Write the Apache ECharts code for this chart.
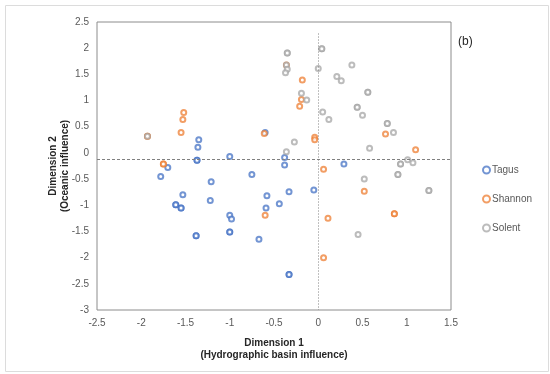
<!DOCTYPE html>
<html><head><meta charset="utf-8">
<script src="https://cdn.jsdelivr.net/npm/echarts@6/dist/echarts.min.js"></script>
<style>html,body{margin:0;padding:0;background:#fff}#c{width:550px;height:374px}</style>
</head><body><div id="c"></div>
<script>
var seriesNames = ['Tagus', 'Shannon', 'Solent'];
var tagus = [[-0.60,0.39],[-1.35,0.25],[-1.36,0.11],[-1.37,-0.14],[-1.37,-0.14],[-1.00,-0.07],[-0.38,-0.09],[-0.38,-0.23],[0.29,-0.21],[-1.70,-0.28],[-1.78,-0.45],[-0.75,-0.41],[-1.21,-0.55],[-1.53,-0.80],[-0.58,-0.82],[-0.33,-0.74],[-0.05,-0.71],[-1.22,-0.91],[-1.61,-0.99],[-1.61,-0.99],[-1.55,-1.05],[-1.55,-1.05],[-0.44,-0.97],[-0.59,-1.05],[-1.00,-1.19],[-0.98,-1.26],[-1.00,-1.51],[-1.00,-1.51],[-1.38,-1.58],[-1.38,-1.58],[-0.67,-1.65],[-0.33,-2.32],[-0.33,-2.32]];
var shannon = [[-1.93,0.32],[-1.93,0.32],[-1.52,0.77],[-1.53,0.64],[-1.55,0.39],[-1.75,-0.21],[-1.75,-0.21],[-0.61,0.37],[-0.18,1.39],[-0.19,1.02],[-0.21,0.89],[-0.36,1.68],[-0.04,0.30],[-0.04,0.25],[0.06,-0.31],[0.52,-0.73],[0.11,-1.25],[-0.60,-1.19],[0.06,-2.00],[0.76,0.36],[1.10,0.06],[0.86,-1.16],[0.86,-1.16]];
var solent = [[-1.93,0.32],[-0.35,1.91],[-0.35,1.91],[0.04,1.99],[0.04,1.99],[-0.36,1.68],[-0.35,1.60],[-0.37,1.53],[0.00,1.61],[0.38,1.68],[0.21,1.46],[0.26,1.38],[-0.19,1.14],[-0.13,1.01],[0.56,1.16],[0.56,1.16],[0.05,0.78],[0.12,0.64],[0.44,0.87],[0.44,0.87],[0.50,0.72],[0.78,0.56],[0.78,0.56],[0.85,0.39],[-0.27,0.21],[-0.36,0.02],[0.58,0.09],[0.93,-0.21],[0.93,-0.21],[1.01,-0.13],[1.07,-0.19],[0.90,-0.41],[0.90,-0.41],[0.52,-0.50],[1.25,-0.72],[1.25,-0.72],[0.45,-1.56]];
var colors = ['#4472C4', '#ED7D31', '#A5A5A5'];
var refX = 0, refY = -0.13, refYTop = 2.28;
var xName = 'Dimension 1\n(Hydrographic basin influence)';
var yName = 'Dimension 2\n(Oceanic influence)';
var panelLabel = '(b)';

var chart = echarts.init(document.getElementById('c'), null, {renderer: 'canvas'});
var font = 'Liberation Sans, Arial, sans-serif';
function mk(name, data, color, extra) {
  var s = {
    name: name, type: 'scatter', data: data,
    symbol: 'circle', symbolSize: 5,
    itemStyle: {color: '#fff', borderColor: color, borderWidth: 2, opacity: 0.75},
    emphasis: {disabled: true}, z: 3
  };
  if (extra) s.markLine = extra;
  return s;
}
var markLines = {
  silent: true, symbol: 'none', label: {show: false},
  data: [
    [{coord: [-2.5, refY], lineStyle: {type: [3, 2], color: '#808080', width: 1}}, {coord: [1.5, refY]}],
    [{coord: [refX, refYTop], lineStyle: {type: [1, 2], color: '#808080', width: 1}}, {coord: [refX, -3]}]
  ]
};
chart.setOption({
  animation: false,
  color: colors,
  grid: {left: 97, right: 99, top: 22, bottom: 64, show: true, borderColor: '#8c8c8c', borderWidth: 1},
  xAxis: {
    type: 'value', min: -2.5, max: 1.5, interval: 0.5,
    name: xName, nameLocation: 'middle', nameGap: 27, nameMoveOverlap: false,
    nameTextStyle: {fontFamily: font, fontSize: 10, fontWeight: 'bold', color: '#262626', lineHeight: 12},
    axisLine: {show: false, onZero: false}, axisTick: {show: false}, splitLine: {show: false},
    axisLabel: {fontFamily: font, fontSize: 10, color: '#595959', margin: 8}
  },
  yAxis: {
    type: 'value', min: -3, max: 2.5, interval: 0.5,
    name: yName, nameLocation: 'middle', nameGap: 26, nameRotate: 90, nameMoveOverlap: false,
    nameTextStyle: {fontFamily: font, fontSize: 10, fontWeight: 'bold', color: '#262626', lineHeight: 12},
    axisLine: {show: false, onZero: false}, axisTick: {show: false}, splitLine: {show: false},
    axisLabel: {fontFamily: font, fontSize: 10, color: '#595959', margin: 8}
  },
  legend: {
    orient: 'vertical', left: 477, top: 160, itemGap: 19, itemWidth: 7, itemHeight: 7,
    icon: 'circle',
    textStyle: {fontFamily: font, fontSize: 10, color: '#595959', padding: [0, 0, 0, -3]},
    data: seriesNames
  },
  graphic: [
    {type: 'rect', left: 3, top: 3, shape: {width: 543, height: 366}, style: {fill: 'none', stroke: '#dcdcdc', lineWidth: 1}, z: -1},
    {type: 'text', left: 458, top: 36, style: {text: panelLabel, font: '12px ' + font, fill: '#262626'}}
  ],
  series: [
    mk(seriesNames[0], tagus, colors[0], markLines),
    mk(seriesNames[1], shannon, colors[1]),
    mk(seriesNames[2], solent, colors[2])
  ]
});
</script></body></html>
